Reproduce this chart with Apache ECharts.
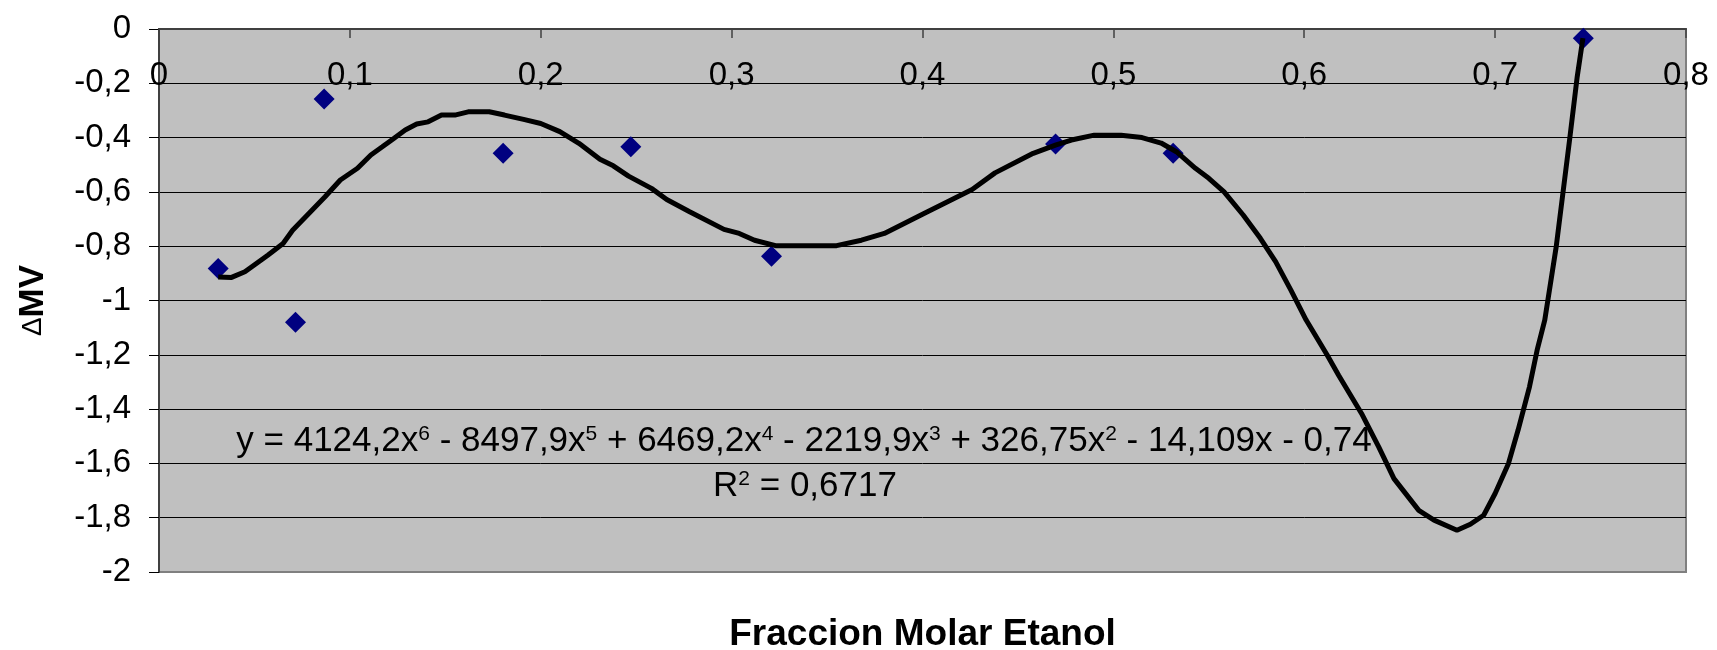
<!DOCTYPE html>
<html><head><meta charset="utf-8">
<script src="https://cdn.jsdelivr.net/npm/echarts@6/dist/echarts.min.js"></script>
<style>html,body{margin:0;padding:0;background:#fff}#c{width:1717px;height:650px}</style>
</head><body><div id="c"></div>
<script>
// Measured data points (diamonds)
const pointX = [0.031, 0.0715, 0.0865, 0.1803, 0.2472, 0.3209, 0.4697, 0.5313, 0.7462];
const pointY = [-0.882, -1.08, -0.258, -0.458, -0.434, -0.837, -0.424, -0.458, -0.034];

// Trend line
const trendX = [0.031, 0.038, 0.045, 0.057, 0.065, 0.070, 0.087, 0.095, 0.104, 0.111, 0.117, 0.123, 0.129, 0.135, 0.141, 0.148, 0.155, 0.162, 0.173, 0.181, 0.191, 0.200, 0.210, 0.220, 0.231, 0.238, 0.246, 0.258, 0.266, 0.278, 0.296, 0.304, 0.312, 0.323, 0.355, 0.368, 0.380, 0.400, 0.426, 0.438, 0.458, 0.470, 0.478, 0.490, 0.504, 0.515, 0.525, 0.533, 0.543, 0.550, 0.558, 0.568, 0.577, 0.585, 0.593, 0.601, 0.612, 0.618, 0.630, 0.639, 0.647, 0.660, 0.668, 0.680, 0.687, 0.694, 0.700, 0.707, 0.712, 0.718, 0.722, 0.726, 0.732, 0.739, 0.743, 0.746];
const trendY = [-0.913, -0.915, -0.894, -0.833, -0.790, -0.741, -0.618, -0.556, -0.513, -0.464, -0.434, -0.403, -0.372, -0.350, -0.342, -0.317, -0.317, -0.305, -0.305, -0.317, -0.333, -0.348, -0.378, -0.421, -0.480, -0.504, -0.542, -0.587, -0.628, -0.673, -0.738, -0.753, -0.778, -0.798, -0.798, -0.778, -0.753, -0.682, -0.591, -0.530, -0.458, -0.427, -0.409, -0.391, -0.391, -0.400, -0.420, -0.452, -0.513, -0.550, -0.600, -0.685, -0.771, -0.857, -0.962, -1.072, -1.201, -1.275, -1.416, -1.539, -1.656, -1.773, -1.809, -1.846, -1.824, -1.791, -1.711, -1.600, -1.478, -1.318, -1.183, -1.072, -0.802, -0.409, -0.176, -0.034];

const xTickLabels = ['0', '0,1', '0,2', '0,3', '0,4', '0,5', '0,6', '0,7', '0,8'];
const yTickLabels = ['0', '-0,2', '-0,4', '-0,6', '-0,8', '-1', '-1,2', '-1,4', '-1,6', '-1,8', '-2'];

const xTitle = 'Fraccion Molar Etanol';
const yTitleSymbol = 'Δ';
const yTitleText = 'MV';
const equationText = 'y = 4124,2x{s|6} - 8497,9x{s|5} + 6469,2x{s|4} - 2219,9x{s|3} + 326,75x{s|2} - 14,109x - 0,74';
const r2Text = 'R{s|2} = 0,6717';

const FONT = 'Liberation Sans, Arial, sans-serif';

const chart = echarts.init(document.getElementById('c'), null, {renderer: 'canvas'});
chart.setOption({
  animation: false,
  backgroundColor: '#ffffff',
  grid: {left: 159, right: 31, top: 29, bottom: 78, containLabel: false, outerBoundsMode: 'none',
    show: true, backgroundColor: '#C0C0C0', borderColor: '#808080', borderWidth: 2},
  xAxis: [{
    type: 'value', position: 'top', min: 0, max: 0.8, interval: 0.1,
    axisLine: {show: true, onZero: false, lineStyle: {color: '#404040', width: 2}},
    axisTick: {show: true, inside: true, length: 9, lineStyle: {color: '#404040', width: 1.5}},
    axisLabel: {inside: true, margin: 30, fontSize: 33, fontFamily: FONT, color: '#000',
      formatter: v => xTickLabels[Math.round(v * 10)]},
    splitLine: {show: false}
  }, {
    type: 'value', position: 'bottom', min: 0, max: 0.8,
    name: xTitle, nameLocation: 'middle', nameGap: 44,
    nameTextStyle: {fontSize: 37, fontWeight: 'bold', fontFamily: FONT, color: '#000'},
    axisLine: {show: false}, axisTick: {show: false}, axisLabel: {show: false}, splitLine: {show: false}
  }],
  yAxis: {
    type: 'value', min: -2, max: 0, interval: 0.2,
    axisLine: {show: true, onZero: false, lineStyle: {color: '#404040', width: 2}},
    axisTick: {show: true, inside: false, length: 10, lineStyle: {color: '#000', width: 1}},
    axisLabel: {margin: 28, fontSize: 33, fontFamily: FONT, color: '#000',
      formatter: v => yTickLabels[Math.round(-v * 5)]},
    splitLine: {show: true, showMinLine: false, showMaxLine: false, lineStyle: {color: '#000', width: 1}},
    name: '{d|' + yTitleSymbol + '}{m|' + yTitleText + '}',
    nameLocation: 'middle', nameGap: 108,
    nameTextStyle: {color: '#000', rich: {
      d: {fontSize: 28, fontFamily: FONT, color: '#000'},
      m: {fontSize: 35, fontWeight: 'bold', fontFamily: FONT, color: '#000'}
    }}
  },
  graphic: [
    {type: 'text', x: 804, y: 441, z: 100, style: {
      text: equationText, fill: '#000', fontSize: 35, fontFamily: FONT, align: 'center', verticalAlign: 'middle',
      rich: {s: {fontSize: 21, fontFamily: FONT, fill: '#000', verticalAlign: 'top'}}
    }},
    {type: 'text', x: 805, y: 486, z: 100, style: {
      text: r2Text, fill: '#000', fontSize: 35, fontFamily: FONT, align: 'center', verticalAlign: 'middle',
      rich: {s: {fontSize: 21, fontFamily: FONT, fill: '#000', verticalAlign: 'top'}}
    }}
  ],
  series: [{
    type: 'scatter', xAxisIndex: 0, z: 2,
    data: pointX.map((x, i) => [x, pointY[i]]),
    symbol: 'diamond', symbolSize: 21,
    itemStyle: {color: '#000080', opacity: 1}
  }, {
    type: 'line', xAxisIndex: 0, z: 3,
    data: trendX.map((x, i) => [x, trendY[i]]),
    showSymbol: false, symbol: 'none', smooth: false,
    lineStyle: {color: '#000', width: 5}
  }]
});
</script></body></html>
